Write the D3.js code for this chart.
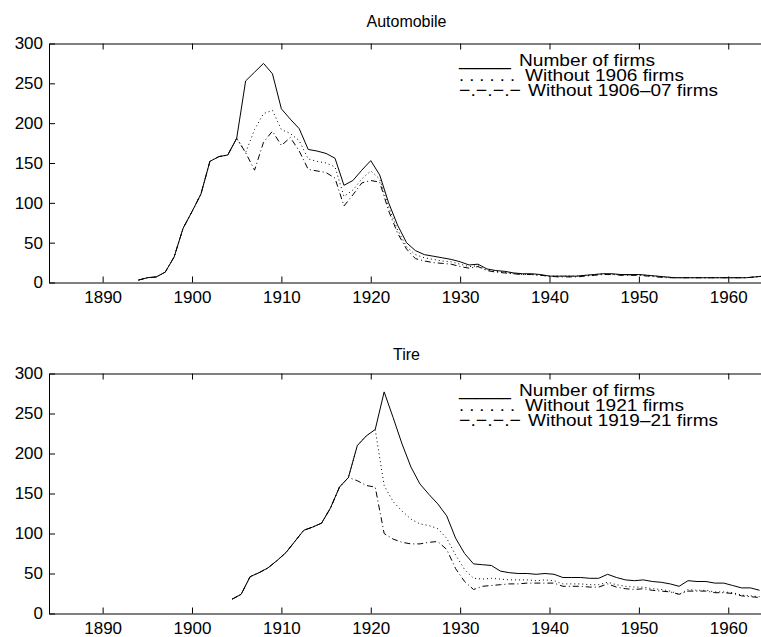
<!DOCTYPE html>
<html><head><meta charset="utf-8">
<script src="https://cdn.jsdelivr.net/npm/d3@7/dist/d3.min.js"></script>
<style>
body{margin:0;background:#fff}
text{font-family:"Liberation Sans",Arial,Helvetica,sans-serif;fill:#000}
</style>
</head><body>
<svg id="c" width="761" height="637"></svg>
<script>
// ---------- DATA ----------
const xTicks = [1890, 1900, 1910, 1920, 1930, 1940, 1950, 1960];
const yTicks = [0, 50, 100, 150, 200, 250, 300];

const autoYears = [1894,1895,1896,1897,1898,1899,1900,1901,1902,1903,1904,1905,1906,1907,1908,1909,1910,1911,1912,1913,1914,1915,1916,1917,1918,1919,1920,1921,1922,1923,1924,1925,1926,1927,1928,1929,1930,1931,1932,1933,1934,1935,1936,1937,1938,1939,1940,1941,1942,1943,1944,1945,1946,1947,1948,1949,1950,1951,1952,1953,1954,1955,1956,1957,1958,1959,1960,1961,1962,1963,1964];
const autoFirms = [3,6,7,13,32,68,89,111,152,158,160,181,253,264,275,262,218,205,193,167,165,162,156,122,128,141,153,135,100,72,50,40,35,33,31,29,26,22,23,17,15,14,12,11,11,10,8,8,8,8,9,10,11,11,10,10,10,9,8,7,6,6,6,6,6,6,6,6,6,7,8];
const autoNo1906 = [3,6,7,13,32,68,89,111,152,158,160,181,163,192,212,216,192,187,178,155,152,150,145,108,116,130,140,130,95,66,45,35,31,29,27,26,23,20,21,16,14,13,11,10,10,9,8,8,8,8,9,10,11,10,10,9,10,9,8,7,6,6,6,6,6,6,6,6,6,7,8];
const autoNo190607 = [3,6,7,13,32,68,89,111,152,158,160,181,163,141,176,190,172,182,165,142,140,138,131,96,110,125,128,126,90,62,42,30,27,25,24,23,20,18,20,15,13,12,11,10,10,9,8,7,7,7,8,9,10,10,9,9,9,8,7,6,6,6,6,6,6,6,6,6,6,7,8];

const tireYears = [1904.5,1905.5,1906.5,1907.5,1908.5,1909.5,1910.5,1911.5,1912.5,1913.5,1914.5,1915.5,1916.5,1917.5,1918.5,1919.5,1920.5,1921.5,1922.5,1923.5,1924.5,1925.5,1926.5,1927.5,1928.5,1929.5,1930.5,1931.5,1932.5,1933.5,1934.5,1935.5,1936.5,1937.5,1938.5,1939.5,1940.5,1941.5,1942.5,1943.5,1944.5,1945.5,1946.5,1947.5,1948.5,1949.5,1950.5,1951.5,1952.5,1953.5,1954.5,1955.5,1956.5,1957.5,1958.5,1959.5,1960.5,1961.5,1962.5,1963.5];
const tireFirms = [18,24,46,51,57,66,76,90,104,108,113,132,158,170,210,222,230,277,245,212,183,162,149,137,122,94,75,62,61,60,53,51,50,50,49,50,49,45,45,45,44,44,49,45,42,41,42,40,39,37,34,41,40,40,38,38,35,32,32,29];
const tireNo1921 = [18,24,46,51,57,66,76,90,104,108,113,132,158,170,210,222,230,160,140,128,118,112,110,106,94,73,55,44,43,44,43,42,42,42,41,42,41,37,37,37,36,36,39,36,34,33,33,31,30,28,24,30,29,29,27,27,26,23,22,21];
const tireNo191921 = [18,24,46,51,57,66,76,90,104,108,113,132,158,170,166,160,158,100,93,89,87,87,89,90,80,56,40,30,34,35,36,37,37,38,38,38,38,34,34,34,33,33,37,33,31,30,31,29,28,27,24,28,28,28,26,26,25,22,21,20];

const panels = [
  {title: "Automobile", years: autoYears,
   series: [autoFirms, autoNo1906, autoNo190607],
   labels: ["Number of firms", "Without 1906 firms", "Without 1906\u201307 firms"]},
  {title: "Tire", years: tireYears,
   series: [tireFirms, tireNo1921, tireNo191921],
   labels: ["Number of firms", "Without 1921 firms", "Without 1919\u201321 firms"]}
];

// ---------- LAYOUT ----------
const svg = d3.select("#c");
const left = 49, right = 764;
const tops = [43.5, 373.5], bottoms = [282.5, 613.5];
const titleY = [27, 360];
const x = d3.scaleLinear().domain([1884, 1964]).range([left, right]);
const dashes = [null, "1,3", "6,3,1,3"];
const samples = ["______", ". . . . . .", "\u2212.\u2212.\u2212.\u2212"];
const sampleLen = [52, 56, 62];
const labelX = [519, 525, 528];
const labelLen = [136, 159, 190];
const fs = 17;
const defs = svg.append("defs");

panels.forEach((p, i) => {
  const top = tops[i], bot = bottoms[i];
  const y = d3.scaleLinear().domain([0, 300]).range([bot, top]);
  const g = svg.append("g");

  const cid = "clip" + i;
  defs.append("clipPath").attr("id", cid)
    .append("rect").attr("x", left).attr("y", top).attr("width", right - left).attr("height", bot - top);

  const line = d3.line().x((d, k) => x(p.years[k])).y(d => y(d));
  [2, 1, 0].forEach(s => {
    g.append("path").datum(p.series[s])
      .attr("clip-path", `url(#${cid})`)
      .attr("d", line)
      .attr("fill", "none")
      .attr("stroke", "#000")
      .attr("stroke-width", 1)
      .attr("stroke-dasharray", dashes[s]);
  });

  const xb = g.append("g").attr("transform", `translate(0,${bot})`)
    .call(d3.axisBottom(x).tickValues(xTicks).tickFormat(d3.format("d")).tickSize(-6).tickSizeOuter(0).tickPadding(8));
  const xt = g.append("g").attr("transform", `translate(0,${top})`)
    .call(d3.axisTop(x).tickValues(xTicks).tickFormat("").tickSize(-6).tickSizeOuter(0));
  const yl = g.append("g").attr("transform", `translate(${left},0)`)
    .call(d3.axisLeft(y).tickValues(yTicks).tickSize(-6).tickSizeOuter(0).tickPadding(6));
  [xb, xt, yl].forEach(a => {
    a.selectAll("path.domain").attr("stroke", "#000").attr("stroke-width", 1);
    a.selectAll(".tick line").attr("stroke", "#000");
    a.selectAll("text").attr("font-size", fs).attr("font-family", "Liberation Sans, Arial, sans-serif").attr("fill", "#000");
  });

  g.append("text").attr("x", (left + right) / 2).attr("y", titleY[i])
    .attr("text-anchor", "middle").attr("font-size", 16).text(p.title);

  p.labels.forEach((lab, k) => {
    const by = top + 22 + k * 15;
    g.append("text").attr("x", 459).attr("y", by).attr("font-size", fs)
      .attr("textLength", sampleLen[k]).attr("lengthAdjust", "spacingAndGlyphs")
      .text(samples[k]);
    g.append("text").attr("x", labelX[k]).attr("y", by).attr("font-size", fs)
      .attr("textLength", labelLen[k]).attr("lengthAdjust", "spacingAndGlyphs")
      .text(lab);
  });
});
</script>
</body></html>
